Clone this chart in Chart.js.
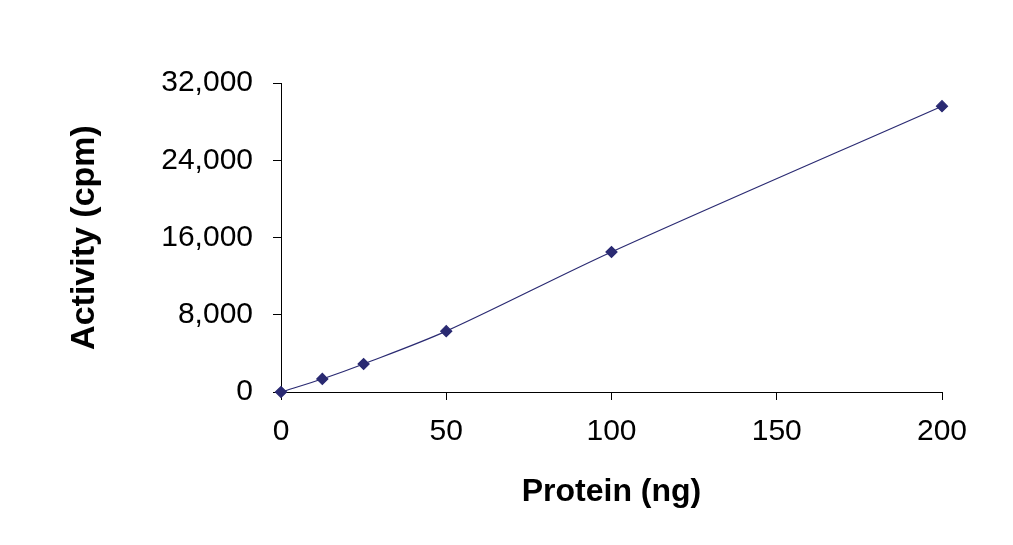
<!DOCTYPE html>
<html><head><script src="https://cdn.jsdelivr.net/npm/chart.js@4"></script>
<style>html,body{margin:0;background:#fff}#w{width:1013px;height:545px}</style></head>
<body><div id="w"><canvas id="c"></canvas></div>
<script>
const proteinNg = [0, 12.5, 25, 50, 100, 200];
const activityCpm = [0, 1350, 2900, 6300, 14500, 29600];
const xTicks = [0, 50, 100, 150, 200];
const yTicks = [0, 8000, 16000, 24000, 32000];
const font = "'Liberation Sans', Arial, sans-serif";
new Chart(document.getElementById('c'), {
  type: 'scatter',
  data: { datasets: [{
    data: proteinNg.map((x, i) => ({x, y: activityCpm[i]})),
    showLine: true, tension: 0.3, borderColor: '#2a2a72', borderWidth: 1.2,
    backgroundColor: '#2a2a72', pointStyle: 'rectRot', pointRadius: 5.5, clip: false
  }]},
  options: {
    responsive: true, maintainAspectRatio: false, animation: false,
    layout: { padding: { left: 60, top: 83, right: 71, bottom: 30 } },
    plugins: { legend: { display: false }, tooltip: { enabled: false } },
    scales: {
      x: { type: 'linear', min: 0, max: 200,
        afterBuildTicks: s => { s.ticks = xTicks.map(v => ({value: v})); },
        afterFit: s => { s.height = 123; },
        grid: { drawOnChartArea: false, tickLength: 8, color: '#000' },
        border: { color: '#000' },
        ticks: { color: '#000', font: { family: font, size: 30 }, padding: 14, maxRotation: 0 },
        title: { display: true, text: 'Protein (ng)', color: '#000', font: { family: font, size: 32, weight: 'bold' } } },
      y: { min: 0, max: 32000,
        afterBuildTicks: s => { s.ticks = yTicks.map(v => ({value: v})); },
        afterFit: s => { s.width = 221; },
        grid: { drawOnChartArea: false, tickLength: 8, color: '#000' },
        border: { color: '#000' },
        ticks: { color: '#000', font: { family: font, size: 30 }, padding: 20,
          callback: v => v.toLocaleString('en-US') },
        title: { display: true, text: 'Activity (cpm)', color: '#000', font: { family: font, size: 34, weight: 'bold' } } }
    }
  }
});
</script></body></html>
